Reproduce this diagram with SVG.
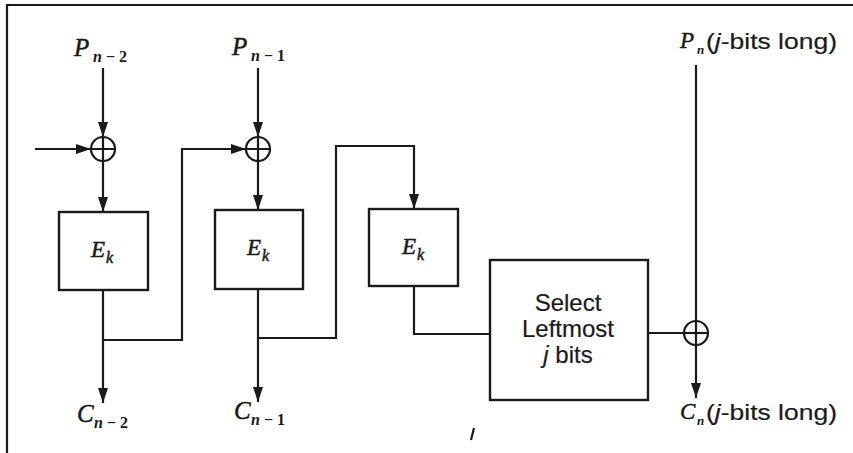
<svg xmlns="http://www.w3.org/2000/svg" width="853" height="453" viewBox="0 0 853 453">
<style>
.ln{fill:none;stroke:#1a1a1a;stroke-width:2.2}
.bx{fill:#fff;stroke:#1a1a1a;stroke-width:2.4}
.ar{marker-end:url(#ah)}
.ser{font-family:"Liberation Serif","Times New Roman",serif;font-style:italic;fill:#1a1a1a;stroke:#1a1a1a;stroke-width:0.5}
.sub{font-family:"Liberation Serif","Times New Roman",serif;font-weight:bold;fill:#1a1a1a}
.san{font-family:"Liberation Sans",Arial,sans-serif;fill:#1a1a1a;stroke:#1a1a1a;stroke-width:0.2}
</style>
<defs>
<marker id="ah" markerUnits="userSpaceOnUse" markerWidth="15" markerHeight="10" refX="15" refY="5" orient="auto" viewBox="0 0 15 10">
<path d="M0,0 L15,5 L0,10 z" fill="#1a1a1a"/>
</marker>
</defs>
<rect width="853" height="453" fill="#fff"/>
<g id="frame">
<path class="ln" d="M7,453 V5 H853" stroke-width="2.5"/>
</g>
<g id="connectors">
<line class="ln ar" x1="103" y1="68" x2="103" y2="137"/>
<line class="ln ar" x1="35" y1="149" x2="91" y2="149"/>
<line class="ln ar" x1="103" y1="161" x2="103" y2="212"/>
<line class="ln ar" x1="103" y1="290" x2="103" y2="403"/>
<path class="ln ar" d="M103,340 H182 V149 H246"/>
<line class="ln ar" x1="258" y1="68" x2="258" y2="137"/>
<line class="ln ar" x1="258" y1="161" x2="258" y2="210"/>
<line class="ln ar" x1="258" y1="289" x2="258" y2="402"/>
<path class="ln ar" d="M258,338 H336 V146 H414 V209"/>
<path class="ln" d="M414,286 V334 H490"/>
<line class="ln" x1="648" y1="333" x2="684" y2="333"/>
<line class="ln ar" x1="696" y1="65" x2="696" y2="398"/>
<line class="ln" x1="474" y1="428" x2="471" y2="440" stroke-width="1.5"/>
</g>
<g id="xor1">
<circle class="ln" cx="103" cy="149" r="12"/>
<path class="ln" d="M91,149 H115 M103,137 V161" stroke-width="1.5"/>
</g>
<g id="xor2">
<circle class="ln" cx="258" cy="149" r="12"/>
<path class="ln" d="M246,149 H270 M258,137 V161" stroke-width="1.5"/>
</g>
<g id="xor3">
<circle class="ln" cx="696" cy="333" r="12"/>
<path class="ln" d="M684,333 H708"/>
</g>
<g id="ek1">
<rect class="bx" x="59" y="212" width="89" height="78"/>
<text class="ser" x="91" y="257" font-size="23">E</text>
<text class="ser" x="106" y="263" font-size="16">k</text>
</g>
<g id="ek2">
<rect class="bx" x="215" y="210" width="88" height="79"/>
<text class="ser" x="247" y="255" font-size="23">E</text>
<text class="ser" x="262" y="261" font-size="16">k</text>
</g>
<g id="ek3">
<rect class="bx" x="369" y="209" width="89" height="77"/>
<text class="ser" x="402" y="254" font-size="23">E</text>
<text class="ser" x="417" y="260" font-size="16">k</text>
</g>
<g id="select">
<rect class="bx" x="490" y="260" width="158" height="140"/>
<text class="san" x="568" y="311" font-size="24" text-anchor="middle">Select</text>
<text class="san" x="568" y="337" font-size="24" text-anchor="middle">Leftmost</text>
<text class="san" x="568" y="363" font-size="24" text-anchor="middle"><tspan font-style="italic">j</tspan> bits</text>
</g>
<g id="labels">
<text class="ser" x="74" y="56" font-size="25">P</text>
<text class="sub" x="93" y="62" font-size="16"><tspan font-style="italic">n</tspan> − 2</text>
<text class="ser" x="232" y="55" font-size="25">P</text>
<text class="sub" x="251" y="61" font-size="16"><tspan font-style="italic">n</tspan> − 1</text>
<text class="ser" x="77" y="422" font-size="25">C</text>
<text class="sub" x="94" y="428" font-size="16"><tspan font-style="italic">n</tspan> − 2</text>
<text class="ser" x="234" y="419" font-size="25">C</text>
<text class="sub" x="251" y="425" font-size="16"><tspan font-style="italic">n</tspan> − 1</text>
<text class="ser" x="680" y="48" font-size="23">P</text>
<text class="sub" x="697" y="54" font-size="13" font-style="italic">n</text>
<text class="san" x="706" y="49" font-size="22" textLength="131" lengthAdjust="spacingAndGlyphs">(<tspan font-style="italic">j</tspan>-bits long)</text>
<text class="ser" x="680" y="419" font-size="23">C</text>
<text class="sub" x="697" y="425" font-size="13" font-style="italic">n</text>
<text class="san" x="706" y="420" font-size="22" textLength="131" lengthAdjust="spacingAndGlyphs">(<tspan font-style="italic">j</tspan>-bits long)</text>
</g>
</svg>
